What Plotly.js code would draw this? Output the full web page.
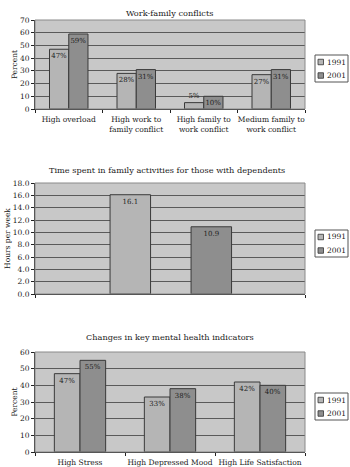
<!DOCTYPE html>
<html>
<head>
<meta charset="utf-8">
<script src="https://cdn.plot.ly/plotly-3.0.1.min.js"></script>
<style>html,body{margin:0;padding:0;background:#fff}#chart{width:350px;height:467px}</style>
</head>
<body>
<div id="chart"></div>
<script>
// ---- Data ----
const seriesNames = ["1991", "2001"];

const conflictCategories = ["High overload", "High work to<br>family conflict", "High family to<br>work conflict", "Medium family to<br>work conflict"];
const conflict1991 = [47, 28, 5, 27];
const conflict2001 = [59, 31, 10, 31];

const familyCategory = ["Family activities"];
const family1991 = [16.1];
const family2001 = [10.9];

const mentalCategories = ["High Stress", "High Depressed Mood", "High Life Satisfaction"];
const mental1991 = [47, 33, 42];
const mental2001 = [55, 38, 40];

// ---- Styling ----
const FONT = "DejaVu Serif, serif";
const COLORS = ["#b5b5b5", "#8e8e8e"];
const LINE = {color: "#3a3a3a", width: 1};
const TXT = {family: FONT, size: 7, color: "#222"};

function pct(a){ return a.map(v => v + "%"); }
// labels too tall for their bar sit just above it
function positions(a, min){ return a.map(v => v < min ? "outside" : "inside"); }

function barTrace(x, y, text, i, xa, ya, extra){
  return Object.assign({type:"bar", x:x, y:y, name:seriesNames[i], xaxis:xa, yaxis:ya, showlegend:false,
    marker:{color:COLORS[i], line:LINE}, text:text, textposition:"inside", insidetextanchor:"end",
    textangle:0, constraintext:"none", textfont:TXT, outsidetextfont:TXT, cliponaxis:false, hoverinfo:"skip"}, extra || {});
}

const traces = [
  barTrace(conflictCategories, conflict1991, pct(conflict1991), 0, "x", "y", {textposition:positions(conflict1991, 8)}),
  barTrace(conflictCategories, conflict2001, pct(conflict2001), 1, "x", "y", {textposition:positions(conflict2001, 8)}),
  barTrace(familyCategory, family1991, family1991.map(v=>v.toFixed(1)), 0, "x2", "y2", {width:0.15, offset:-0.222}),
  barTrace(familyCategory, family2001, family2001.map(v=>v.toFixed(1)), 1, "x2", "y2", {width:0.15, offset:0.078}),
  barTrace(mentalCategories, mental1991, pct(mental1991), 0, "x3", "y3"),
  barTrace(mentalCategories, mental2001, pct(mental2001), 1, "x3", "y3")
];

const W = 350, H = 467;
const px = v => v / W;
const py = v => 1 - v / H;

const tickFont = {family: FONT, size: 7.5, color: "#222"};

function xAx(anchor, showLabels){
  return {domain:[px(35), px(305)], anchor:anchor, type:"category",
    showline:true, linecolor:"#222", linewidth:1, ticks:"outside", ticklen:3, tickcolor:"#222",
    tickson:"boundaries", showgrid:false, zeroline:false, showticklabels:showLabels, tickangle:0,
    ticklabelstandoff:3, automargin:false, tickfont:tickFont, fixedrange:true};
}
function yAx(top, bottom, anchor, range, dtick, fmt, title){
  return {domain:[py(bottom), py(top)], anchor:anchor, range:range, dtick:dtick, tickformat:fmt,
    showline:true, linecolor:"#222", linewidth:1, ticks:"outside", ticklen:3, tickcolor:"#222",
    showgrid:true, gridcolor:"#5a5a5a", gridwidth:1, zeroline:false, automargin:false,
    tickfont:tickFont, title:{text:title, font:{family:FONT, size:7.5, color:"#222"}, standoff:1}, fixedrange:true};
}
function border(xr, yr){
  return {type:"rect", xref:xr+" domain", yref:yr+" domain", x0:0, x1:1, y0:0, y1:1,
    line:{color:"#8a8a8a", width:1}, fillcolor:"rgba(0,0,0,0)", layer:"above"};
}
function titleAnn(text, yPx, xPx){
  return {text:text, xref:"paper", yref:"paper", x:px(xPx), y:py(yPx), xanchor:"center", yanchor:"middle",
    showarrow:false, font:{family:FONT, size:8.2, color:"#222"}};
}

// Legend boxes drawn as layout decorations
const shapes = [border("x","y"), border("x2","y2"), border("x3","y3")];
const annotations = [
  titleAnn("Work-family conflicts", 13, 169),
  titleAnn("Time spent in family activities for those with dependents", 170, 167),
  titleAnn("Changes in key mental health indicators", 337, 170)
];
function addLegend(topPx){
  const left = 315, right = 348, h = 27;
  shapes.push({type:"rect", xref:"paper", yref:"paper", x0:px(left), x1:px(right), y0:py(topPx+h), y1:py(topPx),
    line:{color:"#555", width:1}, fillcolor:"#ffffff"});
  seriesNames.forEach((name, i) => {
    const cy = topPx + 7 + i * 13.5;
    shapes.push({type:"rect", xref:"paper", yref:"paper", x0:px(318), x1:px(323.5), y0:py(cy+2.75), y1:py(cy-2.75),
      line:{color:"#333", width:0.8}, fillcolor:COLORS[i]});
    annotations.push({text:name, xref:"paper", yref:"paper", x:px(324.5), y:py(cy), xanchor:"left", yanchor:"middle",
      showarrow:false, font:{family:FONT, size:7.5, color:"#222"}});
  });
}
addLegend(55);
addLegend(230);
addLegend(393);

const layout = {
  width:W, height:H, margin:{l:0, r:0, t:0, b:0},
  paper_bgcolor:"#ffffff", plot_bgcolor:"#c8c8c8",
  barmode:"group", bargap:0.43, bargroupgap:0, showlegend:false,
  font:{family:FONT, size:8, color:"#222"},
  xaxis: xAx("y", true),
  yaxis: yAx(20, 109, "x", [0,70], 10, "", "Percent"),
  xaxis2: xAx("y2", false),
  yaxis2: yAx(183, 294, "x2", [0,18], 2, ".1f", "Hours per week"),
  xaxis3: xAx("y3", true),
  yaxis3: yAx(352, 452, "x3", [0,60], 10, "", "Percent"),
  shapes: shapes,
  annotations: annotations
};

Plotly.newPlot("chart", traces, layout, {staticPlot:true, displayModeBar:false});
</script>
</body>
</html>
